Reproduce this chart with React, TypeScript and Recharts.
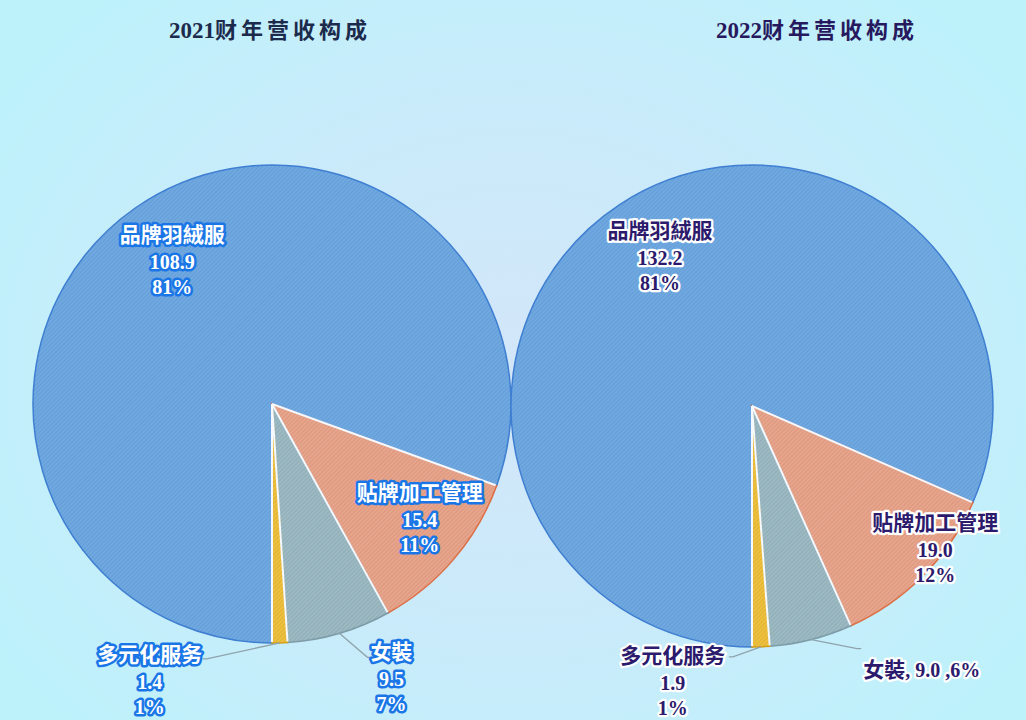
import { Cell, Pie, PieChart } from "recharts";

const categories = ["品牌羽絨服", "贴牌加工管理", "女裝", "多元化服务"];
const revenue2021 = [108.9, 15.4, 9.5, 1.4];
const revenue2022 = [132.2, 19.0, 9.0, 1.9];
const share2021 = ["81%", "11%", "7%", "1%"];
const share2022 = ["81%", "12%", "6%", "1%"];
const titleYears = ["2021", "2022"];
const titleText = "财年营收构成";

const W = 1026;
const H = 720;
const RAD = Math.PI / 180;
const FONT = '"Times New Roman", "Liberation Serif", "Noto Sans CJK SC", serif';

// fill, hatch line, outline
const palette = [
  { id: "blue", base: "#70a9e0", hatch: "#5b95d3", edge: "#3f7fd2" },
  { id: "orange", base: "#e6a68d", hatch: "#d98c70", edge: "#dc6f45" },
  { id: "teal", base: "#9dbac3", hatch: "#86a5b0", edge: "#7d9ca8" },
  { id: "gold", base: "#edc040", hatch: "#dcaa28", edge: "#d39f18" },
];

// label placement relative to the slice (k = fraction of radius, or edge + offsets)
type Spot = { k: number; dx: number; dy: number; line?: [number, number]; inline?: boolean };

const spots2021: Spot[] = [
  { k: 0.8, dx: 10, dy: 14 },
  { k: 0.78, dx: 6, dy: -6 },
  { k: 1, dx: 52, dy: 45, line: [28, 24] },
  { k: 1, dx: -130, dy: 38, line: [-73, 16] },
];
const spots2022: Spot[] = [
  { k: 0.72, dx: 3, dy: -4 },
  { k: 0.9, dx: 29, dy: -10 },
  { k: 1, dx: 52, dy: 30, line: [46, 9], inline: true },
  { k: 1, dx: -88, dy: 35, line: [-28, 10] },
];

const toRows = (values: number[]) => categories.map((name, i) => ({ name, value: values[i] }));
const rows2021 = toRows(revenue2021);
const rows2022 = toRows(revenue2022);

const polar = (cx: number, cy: number, r: number, angle: number) => ({
  x: cx + r * Math.cos(-angle * RAD),
  y: cy + r * Math.sin(-angle * RAD),
});

function makeLabel(spots: Spot[], shares: string[], fill: string, halo: string, haloWidth: number) {
  return (props: any) => {
    const { cx, cy, midAngle, startAngle, outerRadius, index, name, value } = props;
    const spot = spots[index];
    const base = polar(cx, cy, outerRadius * spot.k, midAngle);
    const x = base.x + spot.dx;
    const y = base.y + spot.dy;
    const edge = polar(cx, cy, outerRadius, midAngle);
    const sep = polar(cx, cy, outerRadius - 1, startAngle);
    const textStyle = {
      fontFamily: FONT,
      fontWeight: 700,
      fontSize: 20,
      fill,
      stroke: halo,
      strokeWidth: haloWidth,
      strokeLinejoin: "round" as const,
      paintOrder: "stroke",
    };
    return (
      <g>
        <line x1={cx} y1={cy} x2={sep.x} y2={sep.y} stroke="#f4f9ff" strokeWidth={2} />
        {spot.line && (
          <polyline
            points={`${edge.x},${edge.y} ${edge.x + spot.line[0]},${edge.y + spot.line[1]} ${
              edge.x + spot.line[0] + (spot.line[0] > 0 ? 4 : -4)
            },${edge.y + spot.line[1]}`}
            fill="none"
            stroke="#8fa3ad"
            strokeWidth={1.3}
          />
        )}
        {spot.inline ? (
          <text x={x} y={y} textAnchor="start" dominantBaseline="central" style={textStyle}>
            <tspan fontSize={21}>{name}</tspan>
            {`, ${value.toFixed(1)} ,${shares[index]}`}
          </text>
        ) : (
          <text x={x} y={y - 26} textAnchor="middle" dominantBaseline="central" style={textStyle}>
            <tspan x={x} fontSize={21}>
              {name}
            </tspan>
            <tspan x={x} dy={27}>
              {value.toFixed(1)}
            </tspan>
            <tspan x={x} dy={25}>
              {shares[index]}
            </tspan>
          </text>
        )}
      </g>
    );
  };
}

const titleStyle = (center: number, color: string) => ({
  position: "absolute" as const,
  left: center - 160,
  top: 12,
  width: 320,
  textAlign: "center" as const,
  fontFamily: FONT,
  fontWeight: 700,
  fontSize: 22,
  color,
});

function Title({ year, center, color }: { year: string; center: number; color: string }) {
  return (
    <div style={titleStyle(center, color)}>
      <span style={{ fontSize: 23 }}>{year}</span>
      <span style={{ letterSpacing: 4 }}>{titleText}</span>
    </div>
  );
}

export default function App() {
  return (
    <div
      style={{
        position: "absolute",
        left: 0,
        top: 0,
        width: W,
        height: H,
        overflow: "hidden",
        background:
          "radial-gradient(ellipse 60% 70% at 50% 52%, #d3e6f9 0%, #c9ebfa 55%, #bdf2fb 100%)",
      }}
    >
      <Title year={titleYears[0]} center={270} color="#1c2a4c" />
      <Title year={titleYears[1]} center={817} color="#27195e" />
      <PieChart
        width={W}
        height={H}
        margin={{ top: 0, right: 0, bottom: 0, left: 0 }}
        style={{ position: "absolute", left: 0, top: 0 }}
      >
        <defs>
          {palette.map((p) => (
            <pattern
              key={p.id}
              id={`hatch-${p.id}`}
              width={3}
              height={3}
              patternUnits="userSpaceOnUse"
              patternTransform="rotate(45)"
            >
              <rect width={3} height={3} fill={p.base} />
              <line x1={0} y1={0} x2={0} y2={3} stroke={p.hatch} strokeWidth={1.2} />
            </pattern>
          ))}
        </defs>
        <Pie
          data={rows2021}
          dataKey="value"
          nameKey="name"
          cx={272}
          cy={404}
          outerRadius={239}
          startAngle={270}
          endAngle={-90}
          label={makeLabel(spots2021, share2021, "#ffffff", "#1a76e6", 5)}
          labelLine={false}
          isAnimationActive={false}
        >
          {rows2021.map((r, i) => (
            <Cell key={r.name} fill={`url(#hatch-${palette[i].id})`} stroke={palette[i].edge} strokeWidth={1.5} />
          ))}
        </Pie>
        <Pie
          data={rows2022}
          dataKey="value"
          nameKey="name"
          cx={752}
          cy={406}
          outerRadius={241}
          startAngle={270}
          endAngle={-90}
          label={makeLabel(spots2022, share2022, "#2c1a6c", "#ffffff", 4.5)}
          labelLine={false}
          isAnimationActive={false}
        >
          {rows2022.map((r, i) => (
            <Cell key={r.name} fill={`url(#hatch-${palette[i].id})`} stroke={palette[i].edge} strokeWidth={1.5} />
          ))}
        </Pie>
      </PieChart>
    </div>
  );
}
